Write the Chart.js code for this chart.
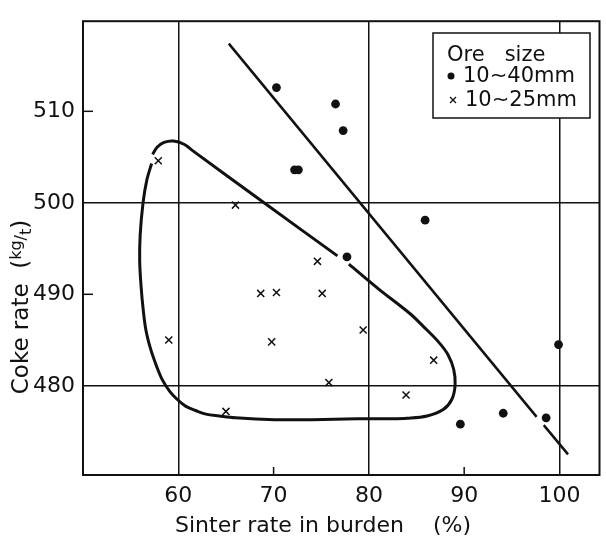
<!DOCTYPE html>
<html>
<head>
<meta charset="utf-8">
<script src="https://cdn.jsdelivr.net/npm/chart.js@4.4.1/dist/chart.umd.min.js"></script>
<style>
  html, body { margin: 0; padding: 0; background: #fff; }
</style>
</head>
<body>
<canvas id="chart" width="606" height="540"></canvas>
<script>
// Sinter rate vs coke rate, two ore sizes

const xTicks = [60, 70, 80, 90, 100];
const yTicks = [480, 490, 500, 510];
const xGridFull = [60, 80, 100];
const yGridFull = [480, 500];

const xTitle = "Sinter rate in burden";
const xUnit = "(%)";
const yTitle = "Coke rate";
const legendTitle = "Ore   size";
const seriesNames = ["10\u223C40mm", "10\u223C25mm"];

// 10~40mm (dots)
const largeX = [70.3, 76.5, 77.3, 72.2, 72.6, 85.9, 77.7, 99.9, 94.1, 89.6, 98.6];
const largeY = [512.6, 510.8, 507.9, 503.6, 503.6, 498.1, 494.1, 484.5, 477.0, 475.8, 476.5];
// 10~25mm (crosses)
const smallX = [57.9, 66.0, 74.6, 68.65, 70.3, 75.1, 79.4, 59.0, 69.8, 75.8, 65.0, 86.8, 83.9];
const smallY = [504.6, 499.75, 493.6, 490.1, 490.2, 490.1, 486.1, 485.0, 484.8, 480.35, 477.2, 482.8, 479.0];

// straight line through the dots (drawn with a gap at 98.6)
const lineAX = [65.3, 97.6];
const lineAY = [517.4, 476.6];
const lineBX = [98.35, 100.9];
const lineBY = [475.7, 472.5];

// closed curve round the crosses, in two pieces
const loopAX = [57.3, 57.8, 58.5, 59.5, 60.6, 61.5, 69.0, 76.7];
const loopAY = [505.3, 506.1, 506.6, 506.75, 506.4, 505.7, 500.0, 494.2];
const loopBX = [77.9, 81.0, 84.3, 85.7, 87.3, 88.3, 88.9, 89.05, 88.7, 87.8, 86.1, 84.0, 82.25, 78.8, 74.0, 70.1, 66.0, 64.3, 62.9, 61.8, 60.8, 59.9, 59.1, 58.3, 57.7, 57.1, 56.6, 56.3, 56.1, 55.95, 56.0, 56.3, 56.7, 57.2];
const loopBY = [493.3, 490.6, 487.9, 486.5, 484.8, 483.4, 481.8, 480.1, 478.5, 477.4, 476.7, 476.45, 476.4, 476.4, 476.3, 476.3, 476.5, 476.7, 476.9, 477.3, 477.75, 478.5, 479.4, 480.7, 482.2, 484.0, 486.1, 488.5, 490.8, 493.6, 496.5, 500.0, 502.5, 504.3];

const pts = (xs, ys) => xs.map((v, i) => ({x: v, y: ys[i]}));
const ink = "#111";
const font = "DejaVu Sans";

const lineSet = (xs, ys, w, t) => ({
    data: pts(xs, ys),
    showLine: true,
    borderColor: ink,
    borderWidth: w,
    pointRadius: 0,
    tension: t,
    fill: false
});

const decor = {
    id: "decor",
    afterDraw(chart) {
        const {ctx, chartArea: a, scales: {x, y}} = chart;
        ctx.save();
        ctx.strokeStyle = ink;
        ctx.fillStyle = ink;

        // frame
        ctx.lineWidth = 2;
        ctx.strokeRect(a.left, a.top, a.right - a.left, a.bottom - a.top);

        // short inner ticks
        ctx.lineWidth = 1.5;
        xTicks.filter(v => !xGridFull.includes(v)).forEach(v => {
            const px = x.getPixelForValue(v);
            ctx.beginPath(); ctx.moveTo(px, a.bottom); ctx.lineTo(px, a.bottom - 8); ctx.stroke();
        });
        yTicks.filter(v => !yGridFull.includes(v)).forEach(v => {
            const py = y.getPixelForValue(v);
            ctx.beginPath(); ctx.moveTo(a.left, py); ctx.lineTo(a.left + 10, py); ctx.stroke();
        });

        // x title
        ctx.font = "22px '" + font + "'";
        ctx.textBaseline = "middle";
        ctx.textAlign = "left";
        ctx.fillText(xTitle, 175, 526);
        ctx.fillText(xUnit, 433, 526);

        // y title, rotated
        ctx.save();
        ctx.translate(22, 307);
        ctx.rotate(-Math.PI / 2);
        ctx.font = "23px '" + font + "'";
        const w1 = ctx.measureText(yTitle + "  (").width;
        ctx.font = "16px '" + font + "'";
        const wkg = ctx.measureText("kg").width;
        const wsl = ctx.measureText("/").width;
        const wt = ctx.measureText("t").width;
        ctx.font = "23px '" + font + "'";
        const wp = ctx.measureText(")").width;
        let cx = -(w1 + wkg + wsl + wt + wp) / 2;
        ctx.fillText(yTitle + "  (", cx, 0); cx += w1;
        ctx.font = "16px '" + font + "'";
        ctx.fillText("kg", cx, -5); cx += wkg;
        ctx.fillText("/", cx, 0); cx += wsl;
        ctx.fillText("t", cx, 5); cx += wt;
        ctx.font = "23px '" + font + "'";
        ctx.fillText(")", cx, 0);
        ctx.restore();

        // legend box
        ctx.fillStyle = "#fff";
        ctx.fillRect(433, 33, 157, 85);
        ctx.lineWidth = 1.5;
        ctx.strokeRect(433, 33, 157, 85);
        ctx.fillStyle = ink;
        ctx.font = "21px '" + font + "'";
        ctx.fillText(legendTitle, 447, 56);
        ctx.beginPath(); ctx.arc(451, 76, 3.5, 0, Math.PI * 2); ctx.fill();
        ctx.fillText(seriesNames[0], 463, 77);
        ctx.lineWidth = 1.3;
        ctx.beginPath();
        ctx.moveTo(450, 97); ctx.lineTo(456, 103);
        ctx.moveTo(456, 97); ctx.lineTo(450, 103);
        ctx.stroke();
        ctx.fillText(seriesNames[1], 465, 101);
        ctx.restore();
    }
};

new Chart(document.getElementById("chart"), {
    type: "scatter",
    data: {
        datasets: [
            {
                label: seriesNames[0],
                data: pts(largeX, largeY),
                pointStyle: "circle",
                pointRadius: 4.4,
                pointBorderWidth: 0,
                backgroundColor: ink,
                borderColor: ink
            },
            {
                label: seriesNames[1],
                data: pts(smallX, smallY),
                pointStyle: "crossRot",
                pointRadius: 5,
                pointBorderWidth: 1.5,
                borderColor: ink,
                backgroundColor: ink
            },
            lineSet(lineAX, lineAY, 2.5, 0),
            lineSet(lineBX, lineBY, 2.5, 0),
            lineSet(loopAX, loopAY, 3, 0.35),
            lineSet(loopBX, loopBY, 3, 0.35)
        ]
    },
    options: {
        responsive: false,
        animation: false,
        devicePixelRatio: 1,
        layout: {padding: {top: 12, right: 2, left: 0, bottom: 0}},
        plugins: {
            legend: {display: false},
            tooltip: {enabled: false}
        },
        scales: {
            x: {
                type: "linear",
                min: 50.0,
                max: 104.2,
                afterBuildTicks: s => { s.ticks = xTicks.map(v => ({value: v})); },
                afterFit: s => { s.height = 65; },
                grid: {
                    color: c => (c.tick && xGridFull.includes(c.tick.value)) ? ink : "rgba(0,0,0,0)",
                    lineWidth: 1.5,
                    drawTicks: false
                },
                border: {display: false},
                ticks: {
                    color: ink,
                    padding: 8,
                    maxRotation: 0,
                    font: {family: font, size: 22}
                }
            },
            y: {
                type: "linear",
                min: 470.25,
                max: 519.85,
                afterBuildTicks: s => { s.ticks = yTicks.map(v => ({value: v})); },
                afterFit: s => { s.width = 83; },
                grid: {
                    color: c => (c.tick && yGridFull.includes(c.tick.value)) ? ink : "rgba(0,0,0,0)",
                    lineWidth: 1.5,
                    drawTicks: false
                },
                border: {display: false},
                ticks: {
                    color: ink,
                    padding: 8,
                    font: {family: font, size: 22}
                }
            }
        }
    },
    plugins: [decor]
});
</script>
</body>
</html>
